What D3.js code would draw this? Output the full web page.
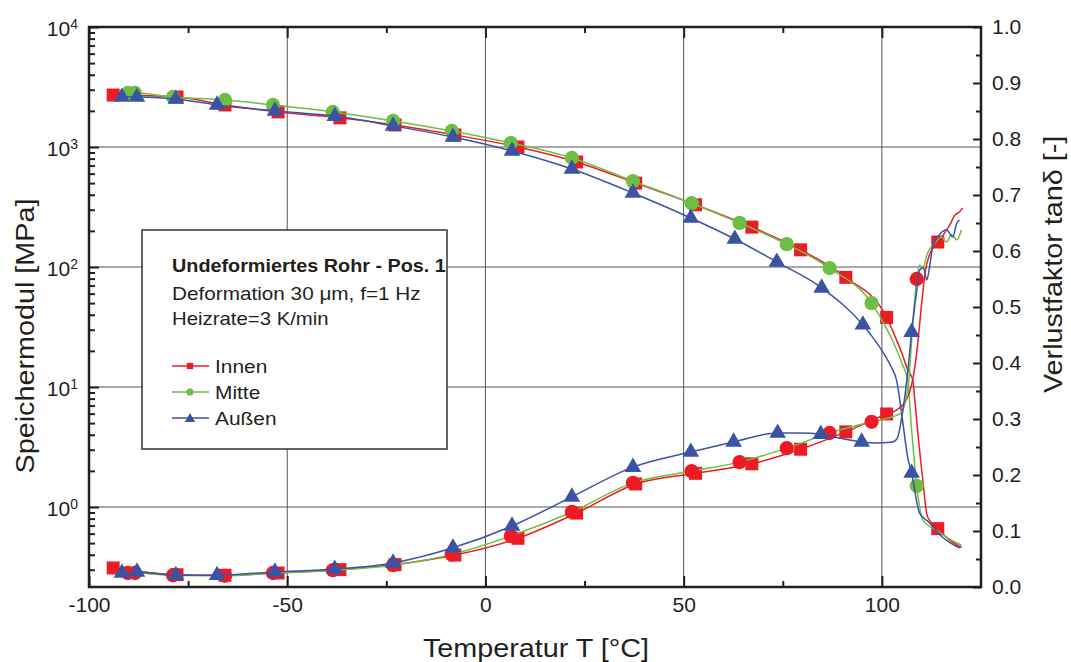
<!DOCTYPE html>
<html>
<head>
<meta charset="utf-8">
<script src="https://cdn.jsdelivr.net/npm/d3@7"></script>
<style>
  body { margin: 0; background: #fff; }
  text { font-family: "Liberation Sans", Arial, sans-serif; fill: #231f20; }
</style>
</head>
<body>
<div class="chart"></div>
<script>
// speichermodul E' [MPa] per position, [T, value, marker?]
var innenE = [
  [-93.9, 2710, 1], [-77.8, 2610, 1], [-65.7, 2240, 1], [-52.3, 1960, 1], [-36.7, 1750, 1],
  [-22.8, 1525, 1], [-7.7, 1260, 1], [8.2, 1000, 1], [23.0, 750, 1], [37.9, 500, 1],
  [53.0, 330, 1], [67.2, 215, 1], [79.5, 139, 1], [90.9, 82, 1], [101.2, 38, 1],
  [103.2, 27], [105.2, 18.5], [106.5, 13.9], [107.8, 11.4], [108.3, 7.8], [109.0, 4.4],
  [110.3, 1.7], [111.5, 0.83], [114.1, 0.66, 1], [117.1, 0.53], [120.1, 0.46]
];
var mitteE = [
  [-90.2, 2820, 1], [-88.4, 2820, 1], [-78.8, 2610, 1], [-65.7, 2465, 1], [-53.6, 2240, 1],
  [-38.5, 1960, 1], [-23.3, 1650, 1], [-8.5, 1360, 1], [6.4, 1080, 1], [21.8, 810, 1],
  [37.2, 520, 1], [52.0, 340, 1], [64.1, 233, 1], [76.0, 155, 1], [86.8, 98, 1], [97.4, 50, 1],
  [100.7, 33], [103.2, 22.4], [105.2, 15.3], [106.5, 11.4], [107.5, 4.4], [108.8, 1.5, 1],
  [110.3, 0.78], [113.8, 0.64], [117.1, 0.54], [120.1, 0.48]
];
var aussenE = [
  [-91.7, 2610, 1], [-87.9, 2610, 1], [-78.1, 2510, 1], [-67.7, 2240, 1], [-53.1, 2000, 1],
  [-38.0, 1810, 1], [-23.3, 1500, 1], [-8.2, 1210, 1], [6.7, 926, 1], [21.8, 656, 1],
  [37.2, 414, 1], [51.8, 256, 1], [62.9, 171, 1], [73.5, 110, 1], [84.8, 67, 1], [95.2, 33, 1],
  [98.2, 24.6], [100.7, 18.5], [102.5, 14.4], [103.7, 11.4], [105.2, 5.3], [106.5, 2.6],
  [107.5, 1.92, 1], [109.5, 0.89], [112.0, 0.74], [115.3, 0.56], [119.6, 0.455]
];

// verlustfaktor tan delta
var innenT = [
  [-93.9, 0.034, 1], [-77.8, 0.022, 1], [-65.7, 0.021, 1], [-52.3, 0.025, 1], [-36.7, 0.031, 1],
  [-22.8, 0.040, 1], [-7.7, 0.057, 1], [8.2, 0.087, 1], [23.0, 0.132, 1], [37.9, 0.184, 1],
  [53.0, 0.203, 1], [67.2, 0.220, 1], [79.5, 0.246, 1], [90.9, 0.277, 1], [101.2, 0.309, 1],
  [103.7, 0.316], [105.7, 0.329], [107.0, 0.348], [108.0, 0.379], [109.0, 0.432], [110.0, 0.504],
  [111.0, 0.566], [112.0, 0.593], [114.1, 0.616, 1], [115.8, 0.632], [117.1, 0.646],
  [118.4, 0.664], [119.6, 0.670], [120.4, 0.677]
];
var mitteT = [
  [-90.2, 0.025, 1], [-88.4, 0.025, 1], [-78.8, 0.021, 1], [-65.7, 0.020, 1], [-53.6, 0.025, 1],
  [-38.5, 0.030, 1], [-23.3, 0.039, 1], [-8.5, 0.058, 1], [6.4, 0.091, 1], [21.8, 0.134, 1],
  [37.2, 0.186, 1], [52.0, 0.207, 1], [64.1, 0.223, 1], [76.0, 0.248, 1], [86.8, 0.275, 1],
  [97.4, 0.295, 1], [102.7, 0.304], [104.5, 0.309], [105.7, 0.325], [106.8, 0.37], [107.8, 0.471],
  [108.8, 0.55, 1], [109.5, 0.575], [110.3, 0.570], [111.5, 0.596], [113.3, 0.614], [115.1, 0.625],
  [116.3, 0.616], [117.6, 0.629], [118.9, 0.620], [120.1, 0.638]
];
var aussenT = [
  [-91.7, 0.025, 1], [-87.9, 0.027, 1], [-78.1, 0.021, 1], [-67.7, 0.021, 1], [-53.1, 0.027, 1],
  [-38.0, 0.032, 1], [-23.3, 0.043, 1], [-8.2, 0.070, 1], [6.7, 0.109, 1], [21.8, 0.161, 1],
  [37.2, 0.214, 1], [51.8, 0.241, 1], [62.6, 0.259, 1], [73.7, 0.275, 1], [79.0, 0.275],
  [84.6, 0.273, 1], [89.9, 0.265], [94.9, 0.259, 1], [98.6, 0.257], [102.7, 0.259], [103.9, 0.266],
  [104.9, 0.298], [106.3, 0.37], [107.5, 0.455, 1], [108.8, 0.53], [109.5, 0.566], [110.5, 0.570],
  [111.3, 0.548], [112.0, 0.570], [112.8, 0.607], [114.1, 0.625], [116.3, 0.638], [117.9, 0.625],
  [118.9, 0.650], [119.6, 0.655]
];

var xTicks = [-100, -50, 0, 50, 100];
var xMinorTicks = [-75, -25, 25, 75];
var eTicks = [1, 10, 100, 1000, 10000];
var tanTicks = [0, 0.1, 0.2, 0.3, 0.4, 0.5, 0.6, 0.7, 0.8, 0.9, 1.0];
var legendNames = ["Innen", "Mitte", "Außen"];
var infoLines = ["Undeformiertes Rohr - Pos. 1", "Deformation 30 \u03bcm, f=1 Hz", "Heizrate=3 K/min"];

var width = 1071, height = 662;
// note: "top" is taken by window.top, so prefix these
var pLeft = 89, pRight = 981, pTop = 27, pBottom = 587;
var red = "#ed1c24", green = "#6dbe45", blue = "#3a53a4";

var svg = d3.select('.chart').append('svg')
    .attr('width', width)
    .attr('height', height);

svg.append('rect').attr('width', width).attr('height', height).attr('fill', '#fff');

var x = d3.scaleLinear().domain([-100, 125]).range([pLeft, pRight]);
// 120px per decade, bottom ends a bit under 10^0
var yE = d3.scaleLog().domain([Math.pow(10, -2 / 3), 1e4]).range([pBottom, pTop]);
var yT = d3.scaleLinear().domain([0, 1]).range([pBottom, pTop]);

// the reference text is drawn a bit wider than liberation sans
function stretch(sel, f) {
    var len = sel.node().getComputedTextLength();
    sel.attr('textLength', len * f).attr('lengthAdjust', 'spacingAndGlyphs');
    return sel;
}

// grid
var grid = svg.append('g');
[-50, 0, 50, 100].forEach(function (t) {
    grid.append('line')
        .attr('x1', x(t)).attr('x2', x(t))
        .attr('y1', pTop).attr('y2', pBottom)
        .style('stroke', '#555').style('stroke-width', 1);
});
[1, 10, 100, 1000].forEach(function (v) {
    grid.append('line')
        .attr('x1', pLeft).attr('x2', pRight)
        .attr('y1', yE(v)).attr('y2', yE(v))
        .style('stroke', '#555').style('stroke-width', 1);
});

// legend box over the grid
var lg = svg.append('g');
lg.append('rect')
    .attr('x', 142).attr('y', 230)
    .attr('width', 305).attr('height', 219)
    .attr('fill', '#fff')
    .style('stroke', '#333').style('stroke-width', 1.5);

stretch(lg.append('text').attr('x', 172).attr('y', 272)
    .style('font-size', '18.5px').style('font-weight', 'bold')
    .text(infoLines[0]), 1.07);
stretch(lg.append('text').attr('x', 172).attr('y', 300)
    .style('font-size', '18.5px')
    .text(infoLines[1]), 1.12);
stretch(lg.append('text').attr('x', 172).attr('y', 325)
    .style('font-size', '18.5px')
    .text(infoLines[2]), 1.1);

var colors = [red, green, blue];
var shapes = [d3.symbolSquare, d3.symbolCircle, d3.symbolTriangle];
legendNames.forEach(function (name, i) {
    var ly = 366 + i * 26;
    lg.append('line')
        .attr('x1', 172).attr('x2', 209)
        .attr('y1', ly).attr('y2', ly)
        .style('stroke', colors[i]).style('stroke-width', 1.5);
    lg.append('path')
        .attr('d', d3.symbol().type(shapes[i]).size(i == 2 ? 45 : 40)())
        .attr('transform', 'translate(190,' + (ly + (i == 2 ? 1 : 0)) + ')')
        .attr('fill', colors[i]);
    stretch(lg.append('text').attr('x', 215).attr('y', ly + 7)
        .style('font-size', '19px')
        .text(name), 1.1);
});

// curves
var lineE = d3.line()
    .x(function (d) { return x(d[0]); })
    .y(function (d) { return yE(d[1]); })
    .curve(d3.curveMonotoneX);
var lineT = d3.line()
    .x(function (d) { return x(d[0]); })
    .y(function (d) { return yT(d[1]); })
    .curve(d3.curveMonotoneX);

var plot = svg.append('g');

function drawSeries(data, line, yScale, lineColor, markColor, shape, size) {
    plot.append('path')
        .attr('d', line(data))
        .attr('fill', 'none')
        .style('stroke', lineColor)
        .style('stroke-width', 1.5);
    var marks = data.filter(function (d) { return d[2]; });
    plot.selectAll(null).data(marks).enter().append('path')
        .attr('d', d3.symbol().type(shape).size(size)())
        .attr('transform', function (d) {
            return 'translate(' + x(d[0]) + ',' + yScale(d[1]) + ')';
        })
        .attr('fill', markColor);
}

drawSeries(innenE, lineE, yE, red, red, d3.symbolSquare, 169);
drawSeries(mitteE, lineE, yE, green, green, d3.symbolCircle, 160);
drawSeries(aussenE, lineE, yE, blue, blue, d3.symbolTriangle, 120);
drawSeries(innenT, lineT, yT, red, red, d3.symbolSquare, 169);
// the mitte tan delta markers are red in the original
drawSeries(mitteT, lineT, yT, green, red, d3.symbolCircle, 160);
drawSeries(aussenT, lineT, yT, blue, blue, d3.symbolTriangle, 120);

// axes, ticks pointing inward
var axes = svg.append('g');

var bottomAxis = axes.append('g')
    .attr('transform', 'translate(0,' + pBottom + ')')
    .call(d3.axisBottom(x).tickValues(xTicks).tickSizeInner(-11).tickSizeOuter(0).tickPadding(10)
        .tickFormat(function (d) { return String(d); }));
axes.append('g')
    .attr('transform', 'translate(0,' + pBottom + ')')
    .call(d3.axisBottom(x).tickValues(xMinorTicks).tickSizeInner(-6).tickSizeOuter(0).tickFormat(''));
axes.append('g')
    .attr('transform', 'translate(0,' + pTop + ')')
    .call(d3.axisTop(x).tickValues(xTicks).tickSizeInner(-11).tickSizeOuter(0).tickFormat(''));
axes.append('g')
    .attr('transform', 'translate(0,' + pTop + ')')
    .call(d3.axisTop(x).tickValues(xMinorTicks).tickSizeInner(-6).tickSizeOuter(0).tickFormat(''));

var leftAxis = axes.append('g')
    .attr('transform', 'translate(' + pLeft + ',0)')
    .call(d3.axisLeft(yE).tickValues(eTicks).tickSizeInner(-10).tickSizeOuter(0).tickPadding(11)
        .tickFormat(function (d) { return Math.round(Math.log10(d)); }));
var minorE = [];
[0.1, 1, 10, 100, 1000].forEach(function (dec) {
    for (var k = 2; k <= 9; k++) {
        if (dec * k >= yE.domain()[0]) minorE.push(dec * k);
    }
});
axes.append('g')
    .attr('transform', 'translate(' + pLeft + ',0)')
    .call(d3.axisLeft(yE).tickValues(minorE).tickSizeInner(-6).tickSizeOuter(0).tickFormat(''));

var rightAxis = axes.append('g')
    .attr('transform', 'translate(' + pRight + ',0)')
    .call(d3.axisRight(yT).tickValues(tanTicks).tickSizeInner(-8).tickSizeOuter(0).tickPadding(11)
        .tickFormat(d3.format('.1f')));
axes.append('g')
    .attr('transform', 'translate(' + pRight + ',0)')
    .call(d3.axisRight(yT).tickValues(d3.range(0.05, 1, 0.1)).tickSizeInner(-5).tickSizeOuter(0).tickFormat(''));

axes.selectAll('.domain').remove();
axes.selectAll('.tick line').style('stroke', '#231f20').style('stroke-width', 2);
axes.selectAll('.tick text').style('font-size', '21px').style('font-family', '"Liberation Sans", Arial, sans-serif').attr('fill', '#231f20');

// 10^n labels
leftAxis.selectAll('.tick text').each(function (d) {
    var t = d3.select(this);
    var ex = Math.round(Math.log10(d));
    t.text('').attr('dy', '0.42em');
    t.append('tspan').text('10');
    t.append('tspan').attr('dy', '-0.55em').style('font-size', '14px').text(ex);
});

// frame
axes.append('rect')
    .attr('x', pLeft).attr('y', pTop)
    .attr('width', pRight - pLeft).attr('height', pBottom - pTop)
    .attr('fill', 'none')
    .style('stroke', '#231f20').style('stroke-width', 2.5);

// titles
stretch(svg.append('text')
    .attr('transform', 'translate(536,657)')
    .attr('text-anchor', 'middle')
    .style('font-size', '25px')
    .text('Temperatur T [°C]'), 1.15);
stretch(svg.append('text')
    .attr('transform', 'translate(34,336) rotate(-90)')
    .attr('text-anchor', 'middle')
    .style('font-size', '25px')
    .text('Speichermodul [MPa]'), 1.15);
stretch(svg.append('text')
    .attr('transform', 'translate(1062,393) rotate(-90)')
    .attr('text-anchor', 'start')
    .style('font-size', '25px')
    .text('Verlustfaktor tan\u03b4 [-]'), 1.15);
</script>
</body>
</html>
